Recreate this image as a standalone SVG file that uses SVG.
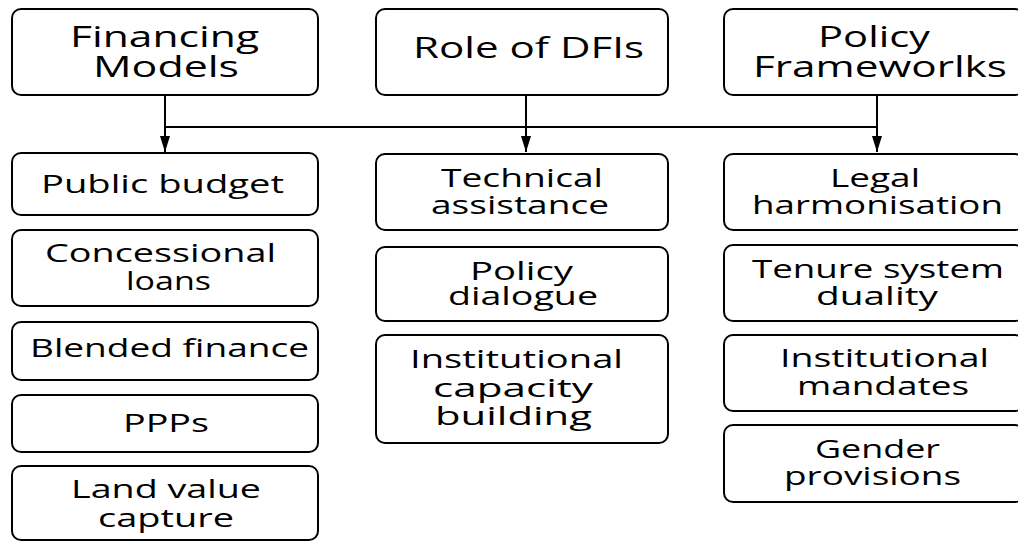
<svg xmlns="http://www.w3.org/2000/svg" width="1018" height="542" viewBox="0 0 1018 542">
  <style>
    .box { fill: #ffffff; stroke: #000000; stroke-width: 2; }
    .hd { font-family: "Open Sans", "Liberation Sans", sans-serif; font-size: 30px; fill: #000000; }
    .tx { font-family: "Open Sans", "Liberation Sans", sans-serif; font-size: 26px; fill: #000000; }
    .wire { fill: none; stroke: #000000; stroke-width: 2; }
  </style>
  <defs>
    <marker id="arrow" viewBox="0 0 16 10" refX="16" refY="5" markerWidth="16" markerHeight="10" markerUnits="userSpaceOnUse" orient="auto">
      <path d="M0,0 L16,5 L0,10 Z" fill="#000000"/>
    </marker>
  </defs>
  <rect width="1018" height="542" fill="#ffffff"/>

  <!-- connectors: header drops joined by a shared horizontal bus -->
  <g id="connectors">
    <path class="wire" d="M165,127 H877"/>
    <path class="wire" d="M165,95 V152" marker-end="url(#arrow)"/>
    <path class="wire" d="M526,95 V152" marker-end="url(#arrow)"/>
    <path class="wire" d="M877,95 V152" marker-end="url(#arrow)"/>
  </g>

  <!-- header row -->
  <g id="financing-models">
    <rect class="box" x="12" y="9" width="306" height="86" rx="9"/>
    <text class="hd">
      <tspan x="70" y="47" textLength="189" lengthAdjust="spacingAndGlyphs">Financing</tspan>
      <tspan x="93" y="77" textLength="146" lengthAdjust="spacingAndGlyphs">Models</tspan>
    </text>
  </g>
  <g id="role-of-dfis">
    <rect class="box" x="376" y="9" width="292" height="86" rx="9"/>
    <text class="hd"><tspan x="413" y="58" textLength="231" lengthAdjust="spacingAndGlyphs">Role of DFIs</tspan></text>
  </g>
  <g id="policy-frameworks">
    <rect class="box" x="724" y="9" width="300" height="86" rx="9"/>
    <text class="hd">
      <tspan x="818" y="47" textLength="112" lengthAdjust="spacingAndGlyphs">Policy</tspan>
      <tspan x="753" y="77" textLength="254" lengthAdjust="spacingAndGlyphs">Frameworlks</tspan>
    </text>
  </g>

  <!-- financing models column -->
  <g id="public-budget">
    <rect class="box" x="12" y="153" width="306" height="62" rx="9"/>
    <text class="tx"><tspan x="41" y="193" textLength="243" lengthAdjust="spacingAndGlyphs">Public budget</tspan></text>
  </g>
  <g id="concessional-loans">
    <rect class="box" x="12" y="230" width="306" height="76" rx="9"/>
    <text class="tx">
      <tspan x="45" y="262" textLength="231" lengthAdjust="spacingAndGlyphs">Concessional</tspan>
      <tspan x="126" y="290" textLength="85" lengthAdjust="spacingAndGlyphs">loans</tspan>
    </text>
  </g>
  <g id="blended-finance">
    <rect class="box" x="12" y="322" width="306" height="58" rx="9"/>
    <text class="tx"><tspan x="30" y="357" textLength="279" lengthAdjust="spacingAndGlyphs">Blended finance</tspan></text>
  </g>
  <g id="ppps">
    <rect class="box" x="12" y="395" width="306" height="57" rx="9"/>
    <text class="tx"><tspan x="123" y="432" textLength="86" lengthAdjust="spacingAndGlyphs">PPPs</tspan></text>
  </g>
  <g id="land-value-capture">
    <rect class="box" x="12" y="466" width="306" height="74" rx="9"/>
    <text class="tx">
      <tspan x="71" y="498" textLength="190" lengthAdjust="spacingAndGlyphs">Land value</tspan>
      <tspan x="98" y="527" textLength="136" lengthAdjust="spacingAndGlyphs">capture</tspan>
    </text>
  </g>

  <!-- role of DFIs column -->
  <g id="technical-assistance">
    <rect class="box" x="376" y="154" width="292" height="76" rx="9"/>
    <text class="tx">
      <tspan x="441" y="187" textLength="162" lengthAdjust="spacingAndGlyphs">Technical</tspan>
      <tspan x="431" y="214" textLength="178" lengthAdjust="spacingAndGlyphs">assistance</tspan>
    </text>
  </g>
  <g id="policy-dialogue">
    <rect class="box" x="376" y="247" width="292" height="74" rx="9"/>
    <text class="tx">
      <tspan x="470" y="280" textLength="103" lengthAdjust="spacingAndGlyphs">Policy</tspan>
      <tspan x="448" y="305" textLength="150" lengthAdjust="spacingAndGlyphs">dialogue</tspan>
    </text>
  </g>
  <g id="institutional-capacity-building">
    <rect class="box" x="376" y="335" width="292" height="108" rx="9"/>
    <text class="tx">
      <tspan x="410" y="368" textLength="213" lengthAdjust="spacingAndGlyphs">Institutional</tspan>
      <tspan x="433" y="397" textLength="160" lengthAdjust="spacingAndGlyphs">capacity</tspan>
      <tspan x="435" y="425" textLength="157" lengthAdjust="spacingAndGlyphs">building</tspan>
    </text>
  </g>

  <!-- policy frameworks column -->
  <g id="legal-harmonisation">
    <rect class="box" x="724" y="154" width="300" height="76" rx="9"/>
    <text class="tx">
      <tspan x="830" y="187" textLength="90" lengthAdjust="spacingAndGlyphs">Legal</tspan>
      <tspan x="752" y="214" textLength="251" lengthAdjust="spacingAndGlyphs">harmonisation</tspan>
    </text>
  </g>
  <g id="tenure-system-duality">
    <rect class="box" x="724" y="245" width="300" height="76" rx="9"/>
    <text class="tx">
      <tspan x="752" y="278" textLength="252" lengthAdjust="spacingAndGlyphs">Tenure system</tspan>
      <tspan x="816" y="305" textLength="122" lengthAdjust="spacingAndGlyphs">duality</tspan>
    </text>
  </g>
  <g id="institutional-mandates">
    <rect class="box" x="724" y="335" width="300" height="76" rx="9"/>
    <text class="tx">
      <tspan x="780" y="367" textLength="209" lengthAdjust="spacingAndGlyphs">Institutional</tspan>
      <tspan x="797" y="395" textLength="172" lengthAdjust="spacingAndGlyphs">mandates</tspan>
    </text>
  </g>
  <g id="gender-provisions">
    <rect class="box" x="724" y="425" width="300" height="77" rx="9"/>
    <text class="tx">
      <tspan x="815" y="458" textLength="125" lengthAdjust="spacingAndGlyphs">Gender</tspan>
      <tspan x="784" y="485" textLength="177" lengthAdjust="spacingAndGlyphs">provisions</tspan>
    </text>
  </g>
</svg>
